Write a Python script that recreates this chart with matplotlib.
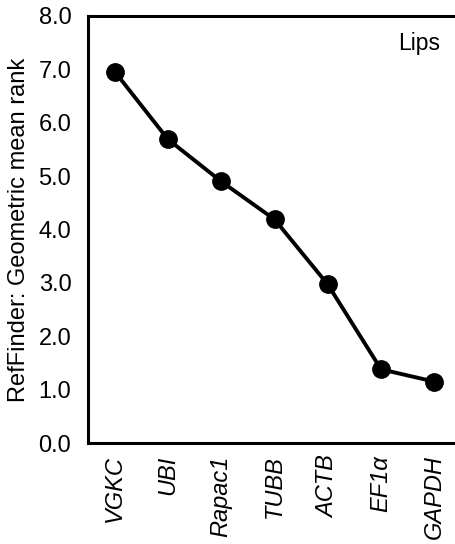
import matplotlib
matplotlib.use("Agg")
import matplotlib.pyplot as plt

genes = ["VGKC", "UBI", "Rapac1", "TUBB", "ACTB", "EF1α", "GAPDH"]
ranks = [6.96, 5.69, 4.90, 4.19, 2.97, 1.38, 1.15]
yticks = [0, 1, 2, 3, 4, 5, 6, 7, 8]
panel = "Lips"
ylabel = "RefFinder: Geometric mean rank"

plt.rcParams['font.family'] = ['Liberation Sans', 'DejaVu Sans']

fig = plt.figure(figsize=(4.55, 5.44), dpi=100)
W, H = 455, 544
ax = fig.add_axes([88 / W, (H - 443) / H, (461 - 88) / W, (443 - 16) / H])
x = list(range(len(genes)))
ax.plot(x, ranks, color="black", lw=2.8, marker="o", ms=12.5)
ax.set_xlim(-0.5, 6.5)
ax.set_ylim(0, 8)
ax.set_yticks(yticks)
ax.set_yticklabels([f"{v:.1f}" for v in yticks], fontsize=17)
ax.set_xticks(x)
ax.set_xticklabels(genes, rotation=90, fontsize=17, style="italic")
ax.tick_params(length=0, pad=9)
ax.tick_params(axis="y", pad=12)
for s in ["left", "bottom", "top"]:
    ax.spines[s].set_linewidth(2.2)
ax.spines["right"].set_visible(False)
ax.set_ylabel(ylabel, fontsize=17, labelpad=6)
ax.text(0.944, 0.935, panel, transform=ax.transAxes, ha="right", va="center", fontsize=16.5)
fig.savefig("out.png", dpi=100)
